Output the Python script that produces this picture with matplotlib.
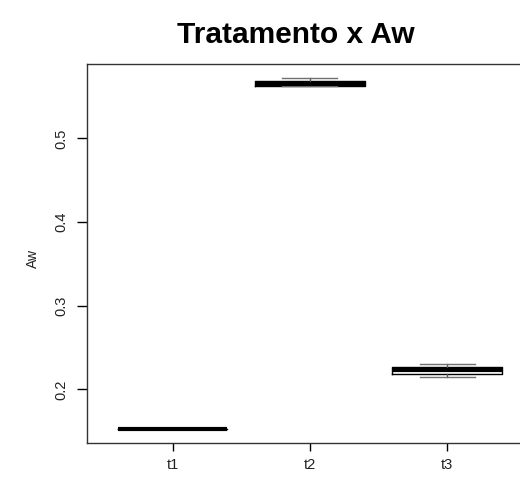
import matplotlib
matplotlib.use("Agg")
import matplotlib.pyplot as plt

plt.rcParams['font.family'] = ['Liberation Sans', 'DejaVu Sans']

# resumo dos tratamentos (quartis e bigodes de Aw)
tratamentos = ["t1", "t2", "t3"]
minimos = [0.153, 0.5630, 0.2149]
q1 = [0.153, 0.5630, 0.2190]
medianas = [0.153, 0.5655, 0.2227]
q3 = [0.153, 0.5685, 0.2265]
maximos = [0.153, 0.5725, 0.2308]
y_ticks = [0.2, 0.3, 0.4, 0.5]

stats = []
for i, nome in enumerate(tratamentos):
    stats.append({"label": nome, "whislo": minimos[i], "q1": q1[i], "med": medianas[i],
                  "q3": q3[i], "whishi": maximos[i], "fliers": []})

fig = plt.figure(figsize=(5.2, 4.84), dpi=100)
ax = fig.add_axes([0.168, 0.0847, 0.856, 0.783])

ax.bxp(stats, positions=[1, 2, 3], widths=0.8, showfliers=False,
       boxprops=dict(color="black", linewidth=1.0),
       medianprops=dict(color="black", linewidth=3.0, solid_capstyle="butt"),
       whiskerprops=dict(color="#555555", linewidth=1.0),
       capprops=dict(color="#707070", linewidth=1.0),
       capwidths=0.4)

ax.set_xlim(0.38, 3.62)
ax.set_ylim(0.136, 0.589)
ax.set_yticks(y_ticks)
ax.set_yticklabels([str(v) for v in y_ticks], rotation=90, va="center", fontsize=10.5, color="#222222")
ax.set_xticks([1, 2, 3])
ax.set_xticklabels(tratamentos, fontsize=10.5, color="#222222")
ax.tick_params(axis="y", length=7, width=1, pad=7)
ax.tick_params(axis="x", length=6, width=1, pad=5)
for s in ax.spines.values():
    s.set_linewidth(1.0)
    s.set_color("#333333")

fig.text(33 / 520, 1 - 258 / 484, "Aw", rotation=90, ha="center", va="center", fontsize=10, color="#222222")
fig.text(296 / 520, 1 - 35 / 484, "Tratamento x Aw", ha="center", va="center",
         fontsize=21.5, fontweight="bold")

fig.savefig("out.png", dpi=100)
